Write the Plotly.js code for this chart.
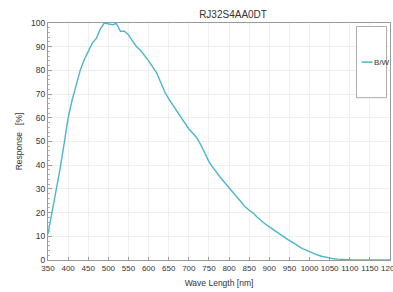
<!DOCTYPE html>
<html>
<head>
<meta charset="utf-8">
<script src="https://cdn.plot.ly/plotly-3.0.1.min.js"></script>
<style>html,body{margin:0;padding:0;background:#fff;}#chart{width:393px;height:292px;}</style>
</head>
<body>
<div id="chart"></div>
<script>
const wavelength = [350,360,370,380,390,400,410,420,430,440,450,460,470,480,490,500,510,520,530,540,550,560,570,580,590,600,610,620,630,640,650,660,670,680,690,700,710,720,730,740,750,760,770,780,790,800,810,820,830,840,850,860,870,880,890,900,910,920,930,940,950,960,970,980,990,1000,1010,1020,1030,1040,1050,1060,1070,1080,1090,1100,1110,1120,1130,1140,1150,1160,1170,1180,1190,1200];
const response = [11,20,29,38.5,49,60,67.5,74,80,84.5,88,91.5,93.5,97.5,100,99.5,99.3,99.8,96.5,96.5,95,92.5,90,88.5,86.5,84,81.5,79,75,71,68,65.5,63,60.5,57.5,55.3,53.5,51.5,48.5,45,41.5,39,36.5,34.5,32.5,30.5,28.5,26.5,24.5,22.5,21,19.8,18,16.5,15.2,14,12.8,11.5,10.5,9.2,8.2,7.2,6,5,4.3,3.5,2.7,2.1,1.6,1.2,0.8,0.5,0.35,0.2,0.15,0.1,0.05,0.03,0.02,0.01,0,0,0,0,0,0];
const seriesName = "B/W";
const chartTitle = "RJ32S4AA0DT";
const xTitle = "Wave Length [nm]";
const yTitle = "Response&nbsp;&nbsp;&nbsp;[%]";

const lineColor = "#4ab6cf";
const font = "'Liberation Sans Narrow', 'Liberation Sans', Arial, sans-serif";

const trace = {
  x: wavelength, y: response, type: "scatter", mode: "lines",
  name: seriesName, line: {color: lineColor, width: 1.4}, showlegend: false
};

const layout = {
  width: 393, height: 292,
  margin: {l: 48, r: 3, t: 23, b: 32},
  paper_bgcolor: "#fff", plot_bgcolor: "#fff",
  font: {family: font, size: 9, color: "#333"},
  title: {text: chartTitle, x: 0.593, xanchor: "center", y: 0.952, yanchor: "middle", font: {family: "'Liberation Sans', Arial, sans-serif", size: 10, color: "#333"}},
  xaxis: {
    range: [350, 1200], dtick: 50, tick0: 350, tickangle: 0, ticklabeloverflow: "allow",
    showgrid: true, gridcolor: "#efefef", gridwidth: 1,
    showline: true, linecolor: "#9a9a9a", linewidth: 1, mirror: true,
    ticks: "inside", ticklen: 3, tickcolor: "#9a9a9a",
    tickfont: {family: font, size: 8, color: "#333"},
    zeroline: false, fixedrange: true,
    title: {text: xTitle, font: {family: font, size: 8.5, color: "#333"}, standoff: 8}
  },
  yaxis: {
    range: [0, 100], dtick: 10,
    showgrid: true, gridcolor: "#efefef", gridwidth: 1,
    showline: true, linecolor: "#9a9a9a", linewidth: 1, mirror: true,
    ticks: "inside", ticklen: 4, tickcolor: "#9a9a9a",
    minor: {dtick: 2, ticks: "inside", ticklen: 2, tickcolor: "#b0b0b0", showgrid: false},
    tickfont: {family: font, size: 8.5, color: "#333"},
    zeroline: false, fixedrange: true,
    title: {text: yTitle, font: {family: font, size: 8.5, color: "#333"}, standoff: 7}
  },
  shapes: [
    {type: "rect", xref: "paper", yref: "paper", x0: 0.902, x1: 0.990, y0: 0.685, y1: 0.985,
     line: {color: "#aaaaaa", width: 1}, fillcolor: "#ffffff", layer: "above"},
    {type: "line", xref: "paper", yref: "paper", x0: 0.917, x1: 0.949, y0: 0.835, y1: 0.835,
     line: {color: lineColor, width: 1.5}, layer: "above"}
  ],
  annotations: [
    {text: seriesName, xref: "paper", yref: "paper", x: 0.947, y: 0.835, xanchor: "left", yanchor: "middle",
     showarrow: false, font: {family: font, size: 8, color: "#333"}}
  ]
};

Plotly.newPlot("chart", [trace], layout, {displayModeBar: false, staticPlot: true});
</script>
</body>
</html>
